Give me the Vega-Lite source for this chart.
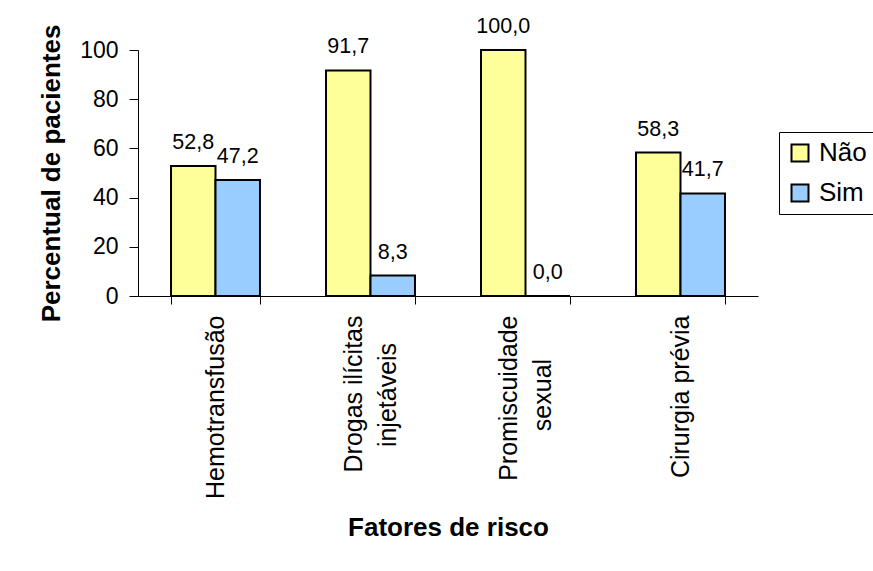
{
  "$schema": "https://vega.github.io/schema/vega-lite/v6.json",
  "width": 620,
  "height": 246,
  "autosize": {"type": "none"},
  "padding": {"left": 138, "top": 50, "right": 115, "bottom": 275},
  "background": "white",
  "config": {
    "locale": {
      "number": {"decimal": ",", "thousands": ".", "grouping": [3], "currency": ["R$", ""]}
    },
    "font": "Liberation Sans",
    "view": {"stroke": null},
    "axis": {
      "grid": false,
      "domainColor": "#000",
      "domainWidth": 1,
      "tickColor": "#000",
      "tickWidth": 1,
      "labelColor": "#000",
      "titleColor": "#000",
      "labelFont": "Liberation Sans",
      "titleFont": "Liberation Sans"
    }
  },
  "datasets": {
    "pacientes": [
      {"fator": "Hemotransfusão", "resposta": "Não", "pct": 52.8},
      {"fator": "Hemotransfusão", "resposta": "Sim", "pct": 47.2},
      {"fator": "Drogas ilícitas injetáveis", "resposta": "Não", "pct": 91.7},
      {"fator": "Drogas ilícitas injetáveis", "resposta": "Sim", "pct": 8.3},
      {"fator": "Promiscuidade sexual", "resposta": "Não", "pct": 100.0},
      {"fator": "Promiscuidade sexual", "resposta": "Sim", "pct": 0.0},
      {"fator": "Cirurgia prévia", "resposta": "Não", "pct": 58.3},
      {"fator": "Cirurgia prévia", "resposta": "Sim", "pct": 41.7}
    ],
    "segundaLinha": [
      {"fator": "Drogas ilícitas injetáveis", "linha": "injetáveis"},
      {"fator": "Promiscuidade sexual", "linha": "sexual"}
    ]
  },
  "data": {"name": "pacientes"},
  "encoding": {
    "x": {
      "field": "fator",
      "type": "nominal",
      "sort": null,
      "scale": {
        "domain": ["Hemotransfusão", "Drogas ilícitas injetáveis", "Promiscuidade sexual", "Cirurgia prévia"],
        "paddingInner": 0.426,
        "paddingOuter": 0.213
      },
      "axis": {
        "title": "Fatores de risco",
        "titleFontSize": 26,
        "titleFontWeight": "bold",
        "titlePadding": 18,
        "labelAngle": -90,
        "labelAlign": "right",
        "labelBaseline": "middle",
        "labelFontSize": 25,
        "labelLimit": 0,
        "labelPadding": 11,
        "labelOffset": {
          "condition": {"test": "datum.value == 'Drogas ilícitas injetáveis' || datum.value == 'Promiscuidade sexual'", "value": -17},
          "value": 0
        },
        "tickSize": 8,
        "tickBand": "extent",
        "labelExpr": "datum.value == 'Drogas ilícitas injetáveis' ? 'Drogas ilícitas' : datum.value == 'Promiscuidade sexual' ? 'Promiscuidade' : datum.value"
      }
    }
  },
  "layer": [
    {
      "mark": {"type": "bar", "stroke": "#000", "strokeWidth": 2},
      "encoding": {
        "xOffset": {
          "field": "resposta",
          "type": "nominal",
          "sort": ["Não", "Sim"],
          "scale": {"paddingInner": 0, "paddingOuter": 0}
        },
        "y": {
          "field": "pct",
          "type": "quantitative",
          "scale": {"domain": [0, 100], "nice": false},
          "axis": {
            "title": "Percentual de pacientes",
            "titleFontSize": 26,
            "titleFontWeight": "bold",
            "titlePadding": 15,
            "values": [0, 20, 40, 60, 80, 100],
            "labelFontSize": 23,
            "labelPadding": 11,
            "tickSize": 9
          }
        },
        "color": {
          "field": "resposta",
          "type": "nominal",
          "scale": {"domain": ["Não", "Sim"], "range": ["#FFFF99", "#99CCFF"]},
          "legend": {
            "title": null,
            "orient": "none",
            "legendX": 641,
            "legendY": 82,
            "direction": "vertical",
            "symbolType": "square",
            "symbolSize": 289,
            "symbolStrokeColor": "#000",
            "symbolStrokeWidth": 2,
            "labelFont": "Liberation Sans",
            "labelFontSize": 26,
            "labelColor": "#000",
            "labelOffset": 6,
            "rowPadding": 14,
            "padding": 8,
            "strokeColor": "#000",
            "fillColor": "white"
          }
        }
      }
    },
    {
      "mark": {"type": "text", "baseline": "alphabetic", "dy": -17, "fontSize": 21.5, "color": "#000", "font": "Liberation Sans"},
      "encoding": {
        "xOffset": {"field": "resposta", "type": "nominal", "sort": ["Não", "Sim"]},
        "y": {"field": "pct", "type": "quantitative"},
        "text": {"field": "pct", "type": "quantitative", "format": ".1f"}
      }
    },
    {
      "data": {"name": "segundaLinha"},
      "mark": {"type": "text", "angle": 270, "align": "center", "baseline": "middle", "dx": -99, "dy": 17, "fontSize": 25, "color": "#000", "font": "Liberation Sans"},
      "encoding": {
        "y": {"datum": 0, "type": "quantitative"},
        "text": {"field": "linha", "type": "nominal"}
      }
    }
  ]
}
